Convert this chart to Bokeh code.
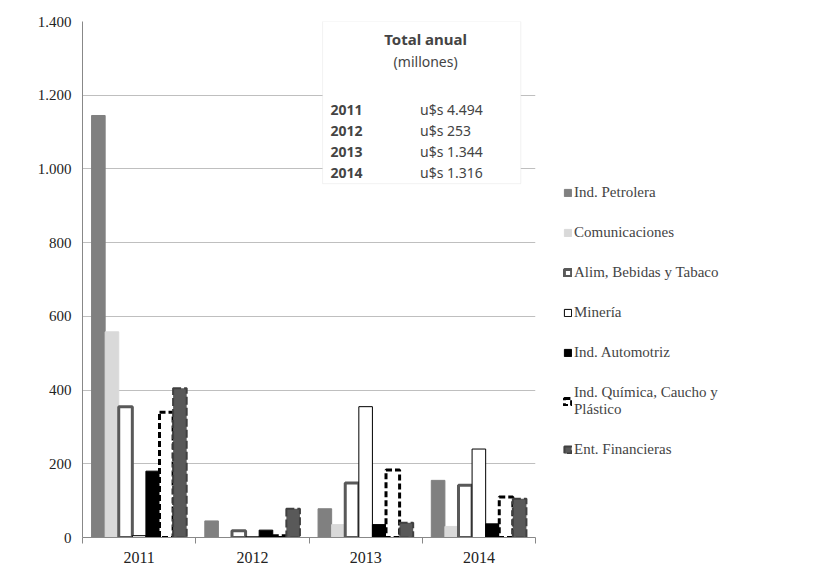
from bokeh.plotting import figure
from bokeh.models import (ColumnDataSource, Legend, LegendItem, LinearAxis,
                          FixedTicker, BoxAnnotation, Label, Range1d)
from bokeh.embed import file_html
from bokeh.resources import INLINE

years = ["2011", "2012", "2013", "2014"]
series = ["Ind. Petrolera", "Comunicaciones", "Alim, Bebidas y Tabaco", "Minería",
          "Ind. Automotriz", "Ind. Química, Caucho y\nPlástico", "Ent. Financieras"]
values = [
    [1145, 45, 78, 155],
    [558, 0, 35, 30],
    [355, 18, 148, 142],
    [5, 2, 355, 240],
    [180, 20, 35, 37],
    [340, 5, 183, 110],
    [405, 78, 40, 105],
]
totals_years = ["2011", "2012", "2013", "2014"]
totals = ["u$s 4.494", "u$s 253", "u$s 1.344", "u$s 1.316"]

styles = [
    dict(fill_color="#808080", line_color="#808080", line_width=1),
    dict(fill_color="#d9d9d9", line_color="#d9d9d9", line_width=1),
    dict(fill_color="white", line_color="#595959", line_width=3),
    dict(fill_color="white", line_color="black", line_width=1),
    dict(fill_color="black", line_color="black", line_width=1),
    dict(fill_color="white", line_color="black", line_width=3, line_dash="6 3"),
    dict(fill_color="#595959", line_color="#404040", line_width=2, line_dash="8 3"),
]

p = figure(frame_width=453, frame_height=516, output_backend="svg", toolbar_location=None,
           x_range=Range1d(-0.5, 3.5), y_range=Range1d(0, 1400),
           min_border_left=82, min_border_right=0, min_border_top=21,
           min_border_bottom=0, outline_line_color=None, x_axis_type=None)

bw = 0.12
items = []
for i, (name, vals) in enumerate(zip(series, values)):
    src = ColumnDataSource(dict(x=[k + (i - 3) * bw for k in range(4)], top=vals))
    r = p.vbar(x="x", top="top", width=bw, bottom=0, source=src, **styles[i])
    items.append(LegendItem(label=name, renderers=[r]))

# ticks at group boundaries
ax1 = LinearAxis(ticker=FixedTicker(ticks=[-0.5, 0.5, 1.5, 2.5, 3.5]),
                 major_label_text_font_size="0px", axis_line_color="#888888",
                 major_tick_line_color="#888888", major_tick_in=0, major_tick_out=6,
                 minor_tick_line_color=None, major_label_standoff=0)
ax2 = LinearAxis(ticker=FixedTicker(ticks=[0, 1, 2, 3]),
                 major_label_overrides={i: y for i, y in enumerate(years)},
                 axis_line_color=None, major_tick_line_color=None,
                 minor_tick_line_color=None, major_label_standoff=2,
                 major_label_text_font="Liberation Serif",
                 major_label_text_font_size="16px", major_label_text_color="#222222")
p.add_layout(ax1, "below")
p.add_layout(ax2, "below")

p.yaxis.ticker = FixedTicker(ticks=list(range(0, 1401, 200)))
p.yaxis.major_label_overrides = {v: f"{v:,}".replace(",", ".") for v in range(0, 1401, 200)}
p.yaxis.major_label_text_font = "Liberation Serif"
p.yaxis.major_label_text_font_size = "15px"
p.yaxis.major_label_text_color = "#222222"
p.yaxis.axis_line_color = "#888888"
p.yaxis.major_tick_line_color = None
p.yaxis.minor_tick_line_color = None
p.xgrid.grid_line_color = None
p.ygrid.grid_line_color = "#bfbfbf"

# totals box
p.add_layout(BoxAnnotation(left=1.62, right=3.37, bottom=960, top=1400,
                           fill_color="white", fill_alpha=1,
                           line_color="#d0d0d0", line_width=1))
p.add_layout(Label(x=2.53, y=1325, text="Total anual", text_font="Noto Sans",
                   text_font_style="bold", text_font_size="15px", text_align="center"))
p.add_layout(Label(x=2.53, y=1266, text="(millones)", text_font="Noto Sans",
                   text_font_size="14px", text_align="center"))
for k, (yr, t) in enumerate(zip(totals_years, totals)):
    yy = 1161 - k * 57
    p.add_layout(Label(x=1.69, y=yy, text=yr, text_font="Noto Sans",
                       text_font_style="bold", text_font_size="14px", text_baseline="middle"))
    p.add_layout(Label(x=2.48, y=yy, text=t, text_font="Noto Sans",
                       text_font_size="14px", text_baseline="middle"))

legend = Legend(items=items, location=(28, 79), label_text_font="Liberation Serif",
                label_text_font_size="15px", spacing=23, glyph_width=9, glyph_height=9,
                border_line_color=None, background_fill_alpha=0, padding=0,
                label_standoff=2, label_height=15)
p.add_layout(legend, "right")

open("out.html", "w").write(file_html(p, INLINE))
